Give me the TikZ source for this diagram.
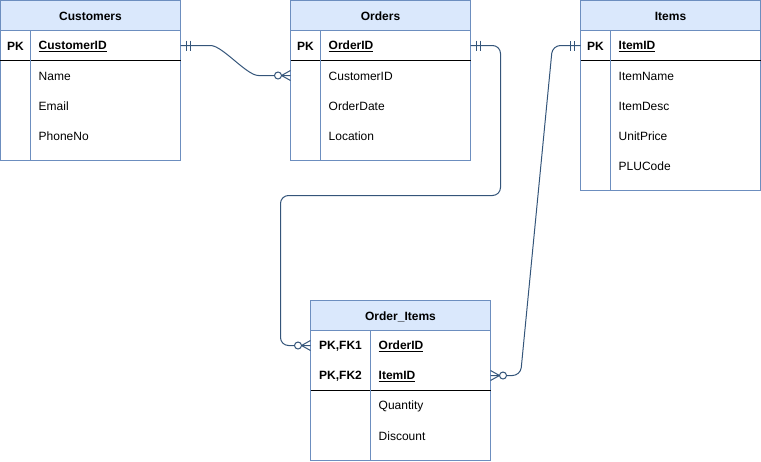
\documentclass[tikz,border=0pt]{standalone}
\usepackage{fontspec}
\setmainfont{Liberation Sans}
\usetikzlibrary{calc}
\definecolor{erborder}{HTML}{6C8EBF}
\definecolor{erhead}{HTML}{DAE8FC}
\definecolor{erlink}{HTML}{34557A}
\tikzset{
  txt/.style={font=\fontsize{12}{14}\selectfont, inner sep=0pt, text=black, yshift=-1pt},
  btxt/.style={font=\fontsize{12}{14}\selectfont\bfseries, inner sep=0pt, text=black, yshift=-1pt},
  frame/.style={draw=erborder, line width=1pt, fill=white, inner sep=0pt, outer sep=0pt, anchor=north west},
  headbox/.style={draw=erborder, line width=1pt, fill=erhead, inner sep=0pt, outer sep=0pt, anchor=north west,
    minimum height=30pt, text height=10.6pt, text depth=0pt, font=\fontsize{12}{14}\selectfont\bfseries},
  sepline/.style={draw=erborder, line width=1pt},
  keyline/.style={draw=black, line width=1pt},
  field/.style={txt, anchor=west},
  keyfield/.style={btxt, anchor=west},
  rowbox/.style={minimum height=30pt, inner sep=0pt, outer sep=0pt},
  link/.style={draw=erlink, line width=1pt, rounded corners=8pt},
  erstroke/.style={draw=erlink, line width=1pt},
  mandone/.pic={\draw[erstroke] (6,-5) -- (6,5) (10,-5) -- (10,5);},
  zeromany/.pic={\draw[erstroke] (0,-5) -- (9,0) -- (0,5);
                 \draw[erstroke, fill=white] (12.5,0) circle[radius=3.5pt];}
}
\begin{document}
\begin{tikzpicture}[x=1pt, y=-1pt]
\useasboundingbox (-0.5,-0.5) rectangle (760.5,460.5);

% ---------- Customers ----------
\node[frame, minimum width=180pt, minimum height=160pt] (cust) at (0,0) {};
\node[headbox, minimum width=180pt] (cust-h) at (0,0) {Customers};
\draw[keyline] (0,60) -- (180,60);
\draw[sepline] (30,30) -- (30,160);
\node[rowbox, minimum width=180pt] (c-pk) at (90,45) {};
\node[btxt] (c-pk-tag) at (15,45) {PK};
\node[keyfield] (c-id) at (38,45) {\underline{CustomerID}};
\node[field] (c-name) at (38,75) {Name};
\node[field] (c-mail) at (38,105) {Email};
\node[field] (c-phone) at (38,135) {PhoneNo};

% ---------- Orders ----------
\node[frame, minimum width=180pt, minimum height=160pt] (ord) at (290,0) {};
\node[headbox, minimum width=180pt] (ord-h) at (290,0) {Orders};
\draw[keyline] (290,60) -- (470,60);
\draw[sepline] (320,30) -- (320,160);
\node[rowbox, minimum width=180pt] (o-pk) at (380,45) {};
\node[rowbox, minimum width=180pt] (o-cust) at (380,75) {};
\node[btxt] (o-pk-tag) at (305,45) {PK};
\node[keyfield] (o-id) at (328,45) {\underline{OrderID}};
\node[field] (o-cid) at (328,75) {CustomerID};
\node[field] (o-date) at (328,105) {OrderDate};
\node[field] (o-loc) at (328,135) {Location};

% ---------- Items ----------
\node[frame, minimum width=180pt, minimum height=190pt] (itm) at (580,0) {};
\node[headbox, minimum width=180pt] (itm-h) at (580,0) {Items};
\draw[keyline] (580,60) -- (760,60);
\draw[sepline] (610,30) -- (610,190);
\node[rowbox, minimum width=180pt] (i-pk) at (670,45) {};
\node[btxt] (i-pk-tag) at (595,45) {PK};
\node[keyfield] (i-id) at (618,45) {\underline{ItemID}};
\node[field] (i-name) at (618,75) {ItemName};
\node[field] (i-desc) at (618,105) {ItemDesc};
\node[field] (i-price) at (618,135) {UnitPrice};
\node[field] (i-plu) at (618,165) {PLUCode};

% ---------- Order_Items ----------
\node[frame, minimum width=180pt, minimum height=160pt] (oi) at (310,300) {};
\node[headbox, minimum width=180pt] (oi-h) at (310,300) {Order\_Items};
\draw[keyline] (310,390) -- (490,390);
\draw[sepline] (370,330) -- (370,460);
\node[rowbox, minimum width=180pt] (oi-pk1) at (400,345) {};
\node[rowbox, minimum width=180pt] (oi-pk2) at (400,375) {};
\node[btxt] (oi-tag1) at (340,345) {PK,FK1};
\node[btxt] (oi-tag2) at (340,375) {PK,FK2};
\node[keyfield] (oi-oid) at (378,345) {\underline{OrderID}};
\node[keyfield] (oi-iid) at (378,375) {\underline{ItemID}};
\node[field] (oi-qty) at (378,405) {Quantity};
\node[field] (oi-disc) at (378,435) {Discount};

% ---------- relationships ----------
\draw[link] (c-pk.east) -- (202,45) .. controls (222,45) and (246,75) .. (266,75) -- (o-cust.west);
\draw[link] (o-pk.east) -- (500,45) -- (500,195) -- (280,195) -- (280,345) -- (oi-pk1.west);
\draw[link] (i-pk.west) -- (552,45) -- (520,375) -- (oi-pk2.east);

% ---------- cardinality marks ----------
\pic at (c-pk.east) {mandone};
\pic[rotate=180] at (o-cust.west) {zeromany};
\pic at (o-pk.east) {mandone};
\pic[rotate=180] at (oi-pk1.west) {zeromany};
\pic[rotate=180] at (i-pk.west) {mandone};
\pic at (oi-pk2.east) {zeromany};
\end{tikzpicture}
\end{document}
